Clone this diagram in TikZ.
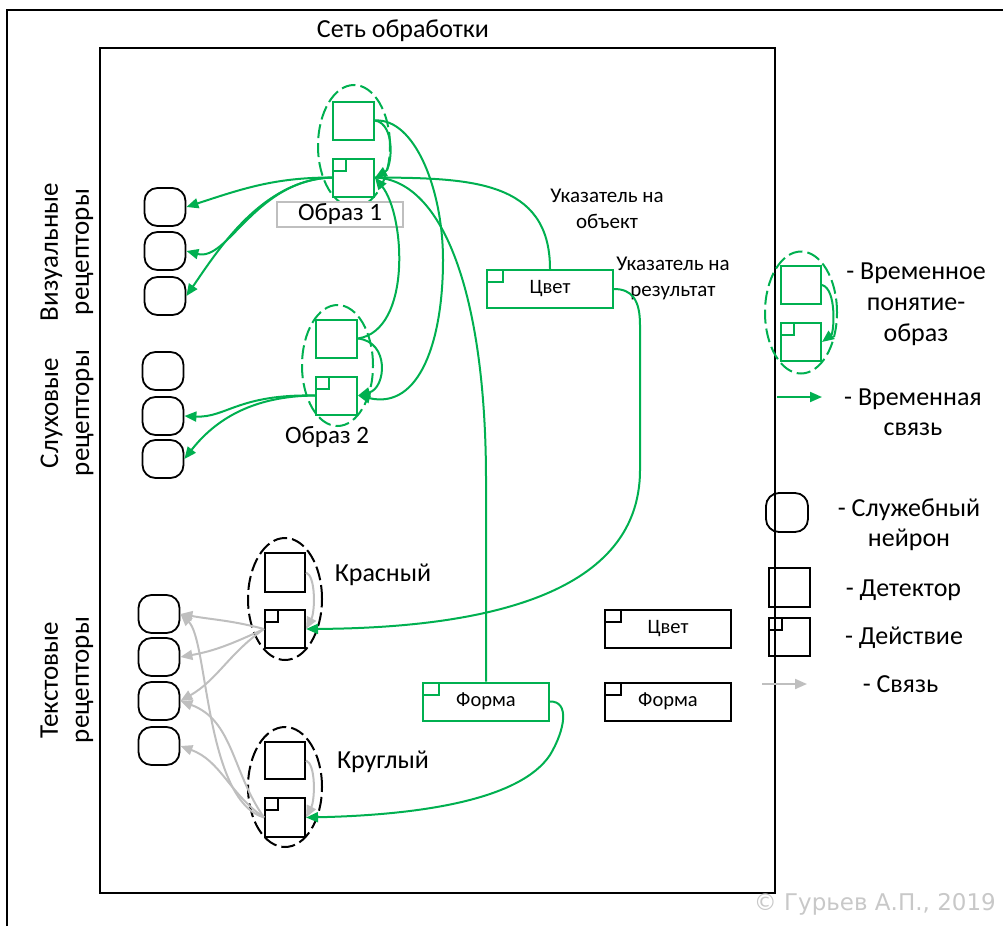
\documentclass[tikz,border=0pt]{standalone}
\usepackage{fontspec}
\setmainfont{Carlito}
\newfontfamily\copyfont{DejaVu Sans}
\usetikzlibrary{arrows.meta,shapes.geometric}
\definecolor{grn}{HTML}{00B050}
\definecolor{lgray}{HTML}{BFBFBF}
\definecolor{cgray}{HTML}{C8C8C8}

\begin{document}
\begin{tikzpicture}[x=1pt,y=1pt,
  txt/.style={inner sep=0pt, align=center, font=\fontsize{26}{30}\selectfont},
  neuron/.style={draw=black, line width=1.8pt, rounded corners=13pt,
    minimum width=41pt, minimum height=38pt, inner sep=0pt},
  det/.style={draw=#1, line width=2pt, minimum width=41pt, minimum height=38pt, inner sep=0pt},
  act/.style={det=#1, path picture={\draw[draw=#1, line width=2pt]
    (path picture bounding box.north west) rectangle ++(13pt,-12pt);}},
  tag/.style={draw=#1, line width=2pt, minimum width=126pt, minimum height=38pt,
    inner sep=0pt, font=\fontsize{20.5}{24}\selectfont,
    path picture={\draw[draw=#1, line width=2pt]
    (path picture bounding box.north west) rectangle ++(16pt,-12pt);}},
  grp/.style={ellipse, draw=#1, line width=2pt, dash pattern=on 14pt off 5pt,
    minimum width=72pt, minimum height=122pt, inner sep=0pt},
  tip/.style={-{Triangle[length=12pt,width=10pt]}},
  glink/.style={draw=grn, line width=2pt},
  garrow/.style={glink, tip},
  sarrow/.style={draw=lgray, line width=2pt, tip}
]
\useasboundingbox (0,0) rectangle (1003,-926);

% outer frame and processing network box
\draw[line width=2pt] (7,-926) -- (7,-10) -- (1003,-10);
\draw[line width=2pt] (100,-48) rectangle (775,-893);
\node[txt] (title) at (403,-31) {Сеть обработки};

% receptor groups
\node[txt, rotate=90, font=\fontsize{27}{31}\selectfont] (rvis) at (67,-252) {Визуальные\\рецепторы};
\node[txt, rotate=90, font=\fontsize{27}{31}\selectfont] (raud) at (67,-413) {Слуховые\\рецепторы};
\node[txt, rotate=90, font=\fontsize{27}{31}\selectfont] (rtxt) at (67,-680) {Текстовые\\рецепторы};

\node[neuron] (v1) at (165,-207) {};
\node[neuron] (v2) at (165,-251) {};
\node[neuron] (v3) at (165,-296) {};
\node[neuron] (a1) at (163,-371) {};
\node[neuron] (a2) at (163,-416) {};
\node[neuron] (a3) at (163,-459) {};
\node[neuron] (t1) at (159,-614) {};
\node[neuron] (t2) at (159,-657) {};
\node[neuron] (t3) at (159,-701) {};
\node[neuron] (t4) at (159,-746) {};

% image 1
\node[grp=grn] (e1) at (354,-146) {};
\node[det=grn] (d1) at (353.5,-120.5) {};
\node[act=grn] (c1) at (353.5,-177.5) {};
\node[draw=lgray, line width=2pt, fill=white, minimum width=126pt, minimum height=25pt,
  inner sep=0pt, font=\fontsize{25}{30}\selectfont] (l1) at (340,-214.5) {Образ 1};

% image 2
\node[grp=grn, minimum width=71pt, minimum height=121pt] (e2) at (337.5,-365.5) {};
\node[det=grn] (d2) at (336.5,-338.5) {};
\node[act=grn] (c2) at (336.5,-395.5) {};
\node[txt, font=\fontsize{25}{30}\selectfont] (l2) at (327,-437) {Образ 2};

% pointers
\node[tag=grn] (cg) at (550,-289) {Цвет};
\node[tag=grn] (fg) at (486,-701.5) {Форма};
\node[tag=black] (cb) at (668,-629) {Цвет};
\node[tag=black] (fb) at (668,-701.5) {Форма};
\node[txt, font=\fontsize{21}{26}\selectfont] (po) at (607,-209) {Указатель на\\объект};
\node[txt, font=\fontsize{21}{26}\selectfont] (pr) at (673,-278) {Указатель на\\результат};

% text concepts
\node[grp=black, minimum width=74pt] (er) at (285,-599) {};
\node[det=black, minimum width=40pt, minimum height=39pt] (dr) at (285,-572.5) {};
\node[act=black, minimum width=40pt] (cr) at (285,-629) {};
\node[txt] (lr) at (383,-575) {Красный};
\node[grp=black, minimum width=74pt, minimum height=120pt] (ek) at (285,-787) {};
\node[det=black, minimum width=40pt, minimum height=37pt] (dk) at (285,-760.5) {};
\node[act=black, minimum width=40pt, minimum height=39pt] (ck) at (285,-817.5) {};
\node[txt] (lk) at (383,-762) {Круглый};

% links of image 1
\draw[garrow] (c1.west) to[out=180,in=18] (v1.east);
\draw[garrow] (c1.west) .. controls (255,-180) and (228,-262) .. (v2.east);
\draw[garrow] (c1.west) .. controls (262,-180) and (218,-250) .. (v3.east);
\draw[garrow] (d1.east) .. controls (396,-124) and (392,-168) .. (c1.east);
% links of image 2
\draw[garrow] (c2.west) .. controls (238,-394) and (226,-418) .. (a2.east);
\draw[garrow] (c2.west) .. controls (252,-396) and (215,-420) .. (a3.east);
\draw[garrow] (d2.east) .. controls (390,-342) and (386,-388) .. (c2.east);
% links between the images
\draw[garrow] (d1.east) .. controls (415,-118) and (443,-190) .. (443,-260)
  .. controls (443,-340) and (420,-410) .. (c2.east);
\draw[garrow] (d2.east) .. controls (412,-330) and (405,-215) .. (c1.east);
\draw[glink] (c1.east) .. controls (470,-178) and (550,-180) .. (cg.north);
\draw[glink] (c1.east) .. controls (445,-180) and (486,-300) .. (486,-480) -- (fg.north);
\draw[garrow] (cg.east) .. controls (632,-289) and (640,-300) .. (640,-325)
  -- (640,-470) .. controls (640,-600) and (470,-628) .. (cr.east);
\draw[garrow] (fg.east) .. controls (570,-701) and (565,-730) .. (550,-755)
  .. controls (520,-800) and (420,-815) .. (ck.east);

% links of the text concepts
\draw[sarrow] (dr.east) .. controls (316,-576) and (315,-612) .. (cr.east);
\draw[sarrow] (dk.east) .. controls (316,-764) and (315,-800) .. (ck.east);
\draw[sarrow] (cr.west) to[out=165,in=-10] (t1.east);
\draw[sarrow] (cr.west) to[out=205,in=10] (t2.east);
\draw[sarrow] (cr.west) to[out=215,in=30] (t3.east);
\draw[sarrow] (ck.west) .. controls (205,-800) and (208,-640) .. (t1.east);
\draw[sarrow] (ck.west) to[out=125,in=-20] (t3.east);
\draw[sarrow] (ck.west) to[out=145,in=-20] (t4.east);

% legend
\node[grp=grn] (le) at (801,-312.5) {};
\node[det=grn, minimum width=40pt] (ld) at (801,-285) {};
\node[act=grn, minimum width=40pt] (lc) at (801,-342) {};
\draw[garrow] (ld.east) .. controls (837,-289) and (834,-333) .. (lc.east);
\node[txt, font=\fontsize{26}{31}\selectfont] (lt1) at (916,-304) {- Временное\\понятие-\\образ};
\coordinate (ga) at (777,-397);
\coordinate (gb) at (822,-397);
\draw[garrow] (ga) -- (gb);
\node[txt] (lt2) at (913,-412) {- Временная\\связь};
\node[neuron, minimum width=42pt, minimum height=39pt] (ln) at (787,-512.5) {};
\node[txt] (lt3) at (909,-525) {- Служебный\\нейрон};
\node[det=black, minimum height=39pt] (ld2) at (789.5,-587.5) {};
\node[txt] (lt4) at (903.5,-590) {- Детектор};
\node[act=black] (lc2) at (789.5,-637) {};
\node[txt] (lt5) at (904,-638) {- Действие};
\coordinate (sa) at (762,-684);
\coordinate (sb) at (807,-684);
\draw[sarrow] (sa) -- (sb);
\node[txt] (lt6) at (900.5,-684) {- Связь};

% author
\node[inner sep=0pt, anchor=east, text=cgray, font=\copyfont\fontsize{23}{27}\selectfont]
  (copy) at (996,-904) {© Гурьев А.П., 2019};
\end{tikzpicture}
\end{document}
